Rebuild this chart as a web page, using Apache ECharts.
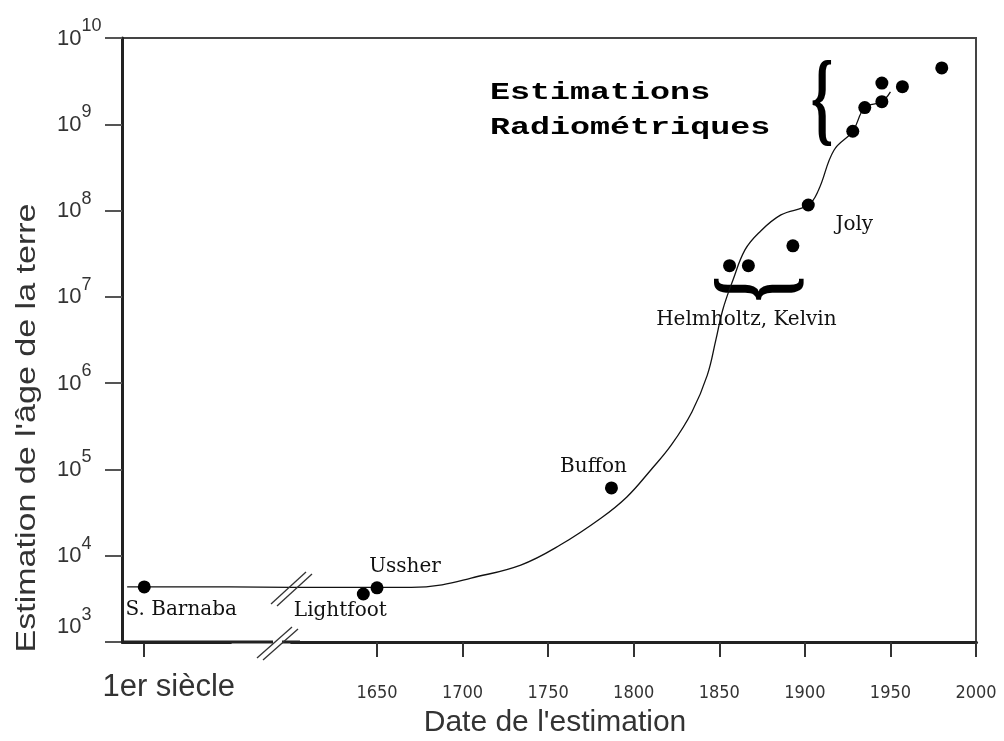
<!DOCTYPE html>
<html>
<head>
<meta charset="utf-8">
<script src="https://cdn.jsdelivr.net/npm/echarts@6.0.0/dist/echarts.min.js"></script>
<style>
  html, body { margin: 0; padding: 0; background: #fff; }
  #chart { width: 1004px; height: 741px; }
</style>
</head>
<body>
<div id="chart"></div>
<script>
// courbe de tendance (tracée à la main dans l'original)
const curveYears = [40, 100, 1600, 1670, 1688, 1705, 1734, 1757, 1781, 1796, 1810, 1822, 1834, 1843, 1848, 1852, 1858, 1865, 1873, 1886, 1902, 1908, 1917, 1928, 1935, 1945, 1950];
const curveAges = [4350, 4350, 4300, 4300, 4600, 5500, 7800, 13300, 27400, 48000, 98600, 192000, 463000, 1.24e6, 3.17e6, 7.05e6, 1.57e7, 3.5e7, 5.5e7, 8.9e7, 1.16e8, 1.73e8, 5.0e8, 8.3e8, 1.56e9, 1.83e9, 2.37e9];

// estimations
const pointYears = [50, 1642, 1650, 1787, 1856, 1867, 1893, 1902, 1928, 1935, 1945, 1945, 1957, 1980];
const pointAges = [4350, 3600, 4240, 61000, 2.3e7, 2.3e7, 3.9e7, 1.16e8, 8.3e8, 1.56e9, 1.83e9, 3.0e9, 2.73e9, 4.5e9];
const pointNames = ['S. Barnaba', 'Lightfoot', 'Ussher', 'Buffon', '', 'Helmholtz, Kelvin', '', 'Joly', '', '', '', '', '', ''];

// axe des x : 1er siècle puis 1650..2000 (axe coupé)
const xTickValues = [50, 1650, 1700, 1750, 1800, 1850, 1900, 1950, 2000];
const xTickNames = ['1er siècle', '1650', '1700', '1750', '1800', '1850', '1900', '1950', '2000'];

// décalage des étiquettes par rapport au point
const labelOffsets = {
  'S. Barnaba': [37, 23],
  'Lightfoot': [-23, 17],
  'Ussher': [28, -21],
  'Buffon': [-18, -21],
  'Helmholtz, Kelvin': [-2, 54],
  'Joly': [46, 20]
};

const sans = '"Liberation Sans", Arial, sans-serif';
const narrow = '"Liberation Sans Narrow", "DejaVu Sans Condensed", "Liberation Sans", sans-serif';
const serif = '"DejaVu Serif", "Liberation Serif", serif';
const mono = '"Liberation Mono", "DejaVu Sans Mono", monospace';

const chart = echarts.init(document.getElementById('chart'));

const option = {
  backgroundColor: '#fff',
  animation: false,
  grid: {
    left: 122, right: 28, top: 38, bottom: 99,
    show: true, borderColor: '#444', borderWidth: 2,
    containLabel: false, outerBoundsMode: 'none'
  },
  xAxis: {
    type: 'value',
    min: 37,
    max: 2000,
    breaks: [{ start: 100, end: 1600, gap: 36 }],
    breakArea: { show: false },
    axisLine: { lineStyle: { color: '#222', width: 3 } },
    axisTick: { customValues: xTickValues, length: 15, lineStyle: { color: '#333', width: 2 } },
    splitLine: { show: false },
    axisLabel: {
      customValues: xTickValues,
      margin: 41,
      formatter: v => {
        const i = xTickValues.indexOf(v);
        return i === 0 ? '{big|' + xTickNames[i] + '}' : '{yr|' + xTickNames[i] + '}';
      },
      rich: {
        big: { fontSize: 31, fontFamily: sans, color: '#333', lineHeight: 8, padding: [0, 0, 0, 49] },
        yr: { fontSize: 18, fontFamily: narrow, color: '#333', lineHeight: 20 }
      }
    },
    name: "Date de l'estimation",
    nameLocation: 'middle',
    nameGap: 57,
    nameTextStyle: { fontSize: 30, fontFamily: sans, color: '#333', padding: [0, 0, 0, 12] }
  },
  yAxis: {
    type: 'log',
    logBase: 10,
    min: 1e3,
    max: 1e10,
    splitNumber: 7,
    axisLine: { show: true, lineStyle: { color: '#222', width: 3 } },
    axisTick: { show: true, length: 17, lineStyle: { color: '#555', width: 2 } },
    minorTick: { show: false },
    splitLine: { show: false },
    axisLabel: {
      margin: 65,
      align: 'left',
      padding: [8, 0, 0, 0],
      formatter: v => {
        const e = Math.round(Math.log10(v));
        return e === 3 ? '{b3|10}{e3|3}' : '{b|10}{e|' + e + '}';
      },
      rich: {
        b: { fontSize: 22, fontFamily: sans, color: '#333', lineHeight: 14, verticalAlign: 'bottom' },
        e: { fontSize: 18, fontFamily: sans, color: '#333', lineHeight: 15, verticalAlign: 'bottom', padding: [0, 0, 14.5, 0] },
        b3: { fontSize: 22, fontFamily: sans, color: '#333', lineHeight: 14, verticalAlign: 'bottom', padding: [0, 0, 16, 0] },
        e3: { fontSize: 18, fontFamily: sans, color: '#333', lineHeight: 15, verticalAlign: 'bottom', padding: [0, 0, 29.5, 0] }
      }
    }
  },
  series: [
    {
      type: 'line',
      data: curveYears.map((x, i) => [x, curveAges[i]]),
      smooth: 0.4,
      symbol: 'none',
      lineStyle: { color: '#111', width: 1.3 },
      z: 2
    },
    {
      type: 'scatter',
      symbol: 'circle',
      symbolSize: 13,
      itemStyle: { color: '#000', opacity: 1 },
      data: pointYears.map((x, i) => {
        const name = pointNames[i];
        return {
          name: name,
          value: [x, pointAges[i]],
          label: name ? { show: true, offset: labelOffsets[name] } : { show: false }
        };
      }),
      label: {
        position: 'inside',
        formatter: p => p.name,
        color: '#111',
        fontFamily: serif,
        fontSize: 20
      },
      z: 3
    }
  ],
  graphic: [
    {
      type: 'text', x: 28, y: 428, rotation: Math.PI / 2, scaleX: 1.26,
      style: { text: "Estimation de l'âge de la terre", fontSize: 27, fontFamily: sans, fill: '#333', textAlign: 'center', textVerticalAlign: 'middle' }
    },
    {
      type: 'text', x: 490, y: 93, scaleX: 1.45,
      style: { text: 'Estimations', fontSize: 23, fontWeight: 'bold', fontFamily: mono, fill: '#000', textAlign: 'left', textVerticalAlign: 'middle' }
    },
    {
      type: 'text', x: 490, y: 128, scaleX: 1.45,
      style: { text: 'Radiométriques', fontSize: 23, fontWeight: 'bold', fontFamily: mono, fill: '#000', textAlign: 'left', textVerticalAlign: 'middle' }
    },
    {
      type: 'text', x: 822, y: 105, scaleX: 0.55,
      style: { text: '{', fontSize: 104, fontWeight: 'bold', fontFamily: '"Liberation Serif", serif', fill: '#000', textAlign: 'center', textVerticalAlign: 'middle' }
    },
    {
      type: 'text', x: 761, y: 289, rotation: Math.PI / 2, scaleX: 0.6,
      style: { text: '{', fontSize: 108, fontWeight: 'bold', fontFamily: '"Liberation Serif", serif', fill: '#000', textAlign: 'center', textVerticalAlign: 'middle' }
    },
    // axe continu sous la coupure, puis marques de coupure
    { type: 'line', shape: { x1: 121, y1: 642, x2: 300, y2: 642 }, style: { stroke: '#222', lineWidth: 3 }, z: 99 },
    { type: 'rect', shape: { x: 273, y: 637, width: 9, height: 10 }, style: { fill: '#fff' }, z: 100 },
    { type: 'line', shape: { x1: 271, y1: 604, x2: 306, y2: 572 }, style: { stroke: '#333', lineWidth: 1.3 }, z: 100 },
    { type: 'line', shape: { x1: 277, y1: 606, x2: 312, y2: 574 }, style: { stroke: '#333', lineWidth: 1.3 }, z: 100 },
    { type: 'line', shape: { x1: 257, y1: 658, x2: 292, y2: 627 }, style: { stroke: '#333', lineWidth: 1.3 }, z: 100 },
    { type: 'line', shape: { x1: 263, y1: 660, x2: 298, y2: 629 }, style: { stroke: '#333', lineWidth: 1.3 }, z: 100 }
  ]
};

chart.setOption(option);
window.addEventListener('resize', () => chart.resize());
</script>
</body>
</html>
